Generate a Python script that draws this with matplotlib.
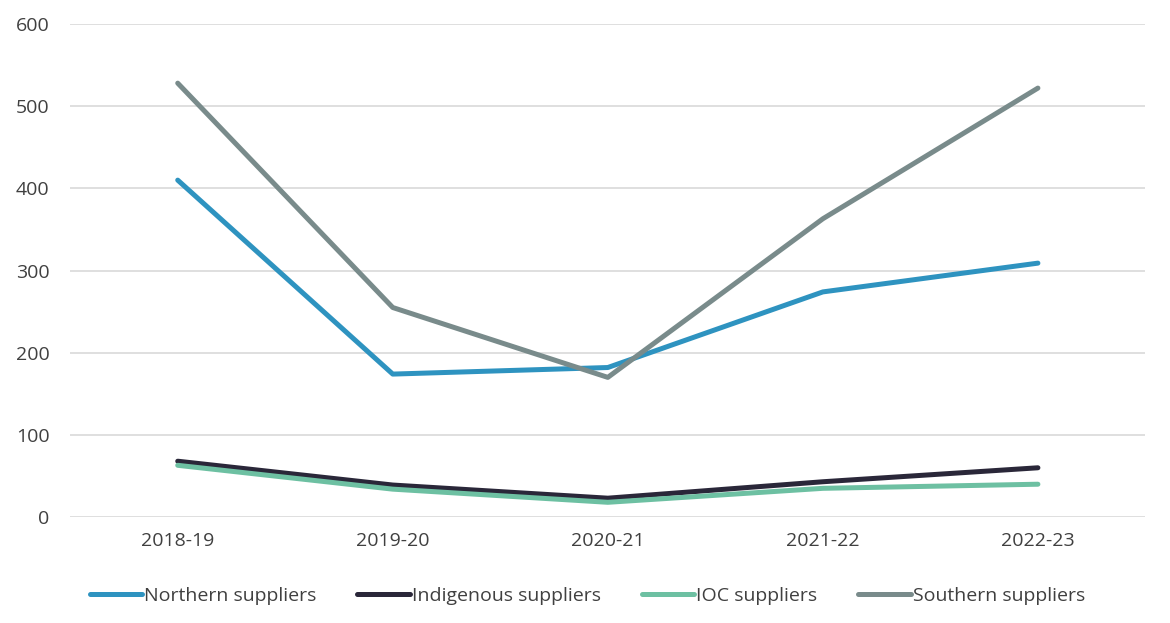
import matplotlib.pyplot as plt

plt.rcParams['font.family'] = ['Open Sans', 'DejaVu Sans']

years = ["2018-19", "2019-20", "2020-21", "2021-22", "2022-23"]
northern = [410, 174, 182, 274, 309]
indigenous = [68, 39, 23, 43, 60]
ioc = [63, 34, 18, 35, 40]
southern = [528, 255, 170, 363, 522]

series = [
    ("Northern suppliers", northern, "#2E93C0"),
    ("Indigenous suppliers", indigenous, "#2A2739"),
    ("IOC suppliers", ioc, "#6DC0A2"),
    ("Southern suppliers", southern, "#798B8B"),
]

fig = plt.figure(figsize=(11.7, 6.23), dpi=100)
ax = fig.add_axes([0.06, 0.17, 0.919, 0.7915])

x = range(len(years))
for name, vals, col in series:
    ax.plot(x, vals, color=col, lw=3.6, label=name, solid_capstyle="round")

ax.set_xlim(-0.5, len(years) - 0.5)
ax.set_ylim(0, 600)
ax.set_yticks(range(0, 601, 100))
ax.set_xticks(list(x))
ax.set_xticklabels(years)
ax.grid(axis="y", color="#D9D9D9", lw=1.2)
ax.set_axisbelow(True)
for s in ax.spines.values():
    s.set_visible(False)
ax.tick_params(length=0, labelsize=14, colors="#404040", pad=11)
ax.tick_params(axis="y", pad=15)

leg = fig.legend(loc="center", bbox_to_anchor=(0.502, 0.043), ncol=4, frameon=False,
                 fontsize=14, handlelength=2.7, handletextpad=0.1, columnspacing=2.1)
for t in leg.get_texts():
    t.set_color("#404040")

fig.savefig("out.png", dpi=100)
